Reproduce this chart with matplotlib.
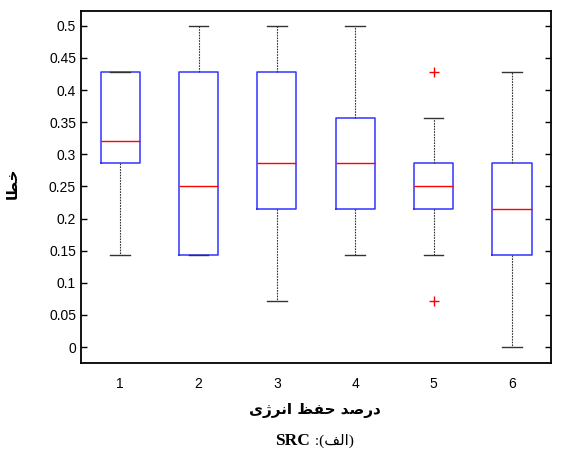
import matplotlib
matplotlib.use("Agg")
import matplotlib.pyplot as plt

# data (fractions of 14)
positions = [1, 2, 3, 4, 5, 6]
q1 = [4/14, 2/14, 3/14, 3/14, 3/14, 2/14]
med = [4.5/14, 3.5/14, 4/14, 4/14, 3.5/14, 3/14]
q3 = [6/14, 6/14, 6/14, 5/14, 4/14, 4/14]
whislo = [2/14, 2/14, 1/14, 2/14, 2/14, 0.0]
whishi = [6/14, 7/14, 7/14, 7/14, 5/14, 6/14]
fliers = [[], [], [], [], [6/14, 1/14], []]
yticks = [0, 0.05, 0.1, 0.15, 0.2, 0.25, 0.3, 0.35, 0.4, 0.45, 0.5]
ytick_labels = ["0", "0.05", "0.1", "0.15", "0.2", "0.25", "0.3", "0.35", "0.4", "0.45", "0.5"]
xtick_labels = ["1", "2", "3", "4", "5", "6"]

# pre-shaped Persian text (visual order, presentation forms)
ylab = "\uFE8E\uFEC4\uFEA7"  # خطا
xlab = "\uFBFC\uFB8A\uFEAE\uFEE7\uFE8D \uFEC6\uFED4\uFEA3 \uFEAA\uFEBB\uFEAD\uFEA9"  # درصد حفظ انرژی
alef = "\uFED2\uFEDF\uFE8D"  # الف

stats = []
for i in range(len(positions)):
    stats.append(dict(q1=q1[i], med=med[i], q3=q3[i], whislo=whislo[i],
                      whishi=whishi[i], fliers=fliers[i]))

fig = plt.figure(figsize=(5.7, 4.59), dpi=100)
ax = fig.add_axes([0.142, 0.209, 0.825, 0.767])

ax.bxp(stats, positions=positions, widths=0.5, capwidths=0.25,
       boxprops=dict(color="#3333ff", linewidth=1.1),
       medianprops=dict(color="#ff0000", linewidth=1.0),
       whiskerprops=dict(color="#333333", linewidth=0.8, linestyle=(0, (1.5, 1))),
       capprops=dict(color="#333333", linewidth=1.0),
       flierprops=dict(marker="+", markeredgecolor="#ff0000", markersize=7,
                       markeredgewidth=1.0, linestyle="none"))

ax.set_xlim(0.5, 6.5)
ax.set_ylim(-0.025, 0.523)
ax.set_yticks(yticks)
ax.set_yticklabels(ytick_labels, family="Liberation Sans", fontsize=10)
ax.set_xticks(positions)
ax.set_xticklabels(xtick_labels, family="Liberation Sans", fontsize=10)
ax.tick_params(axis="y", direction="in", length=4, right=True, width=1)
ax.tick_params(axis="x", length=0, pad=10)
for s in ax.spines.values():
    s.set_linewidth(1.3)

fig.text(0.021, 0.60, ylab, rotation=90, ha="center", va="center",
         fontsize=11, fontweight="bold", family=["DejaVu Sans"])
fig.text(0.553, 0.105, xlab, ha="center", va="center",
         fontsize=11, fontweight="bold", family=["DejaVu Sans"])
fig.text(0.543, 0.040, "SRC", ha="right", va="center", fontsize=12.5,
         fontweight="bold", family=["Liberation Serif", "DejaVu Sans"])
fig.text(0.545, 0.040, " :(" + alef + ")", ha="left", va="center", fontsize=11,
         family=["Liberation Serif", "DejaVu Sans"])

fig.savefig("out.png", dpi=100)
